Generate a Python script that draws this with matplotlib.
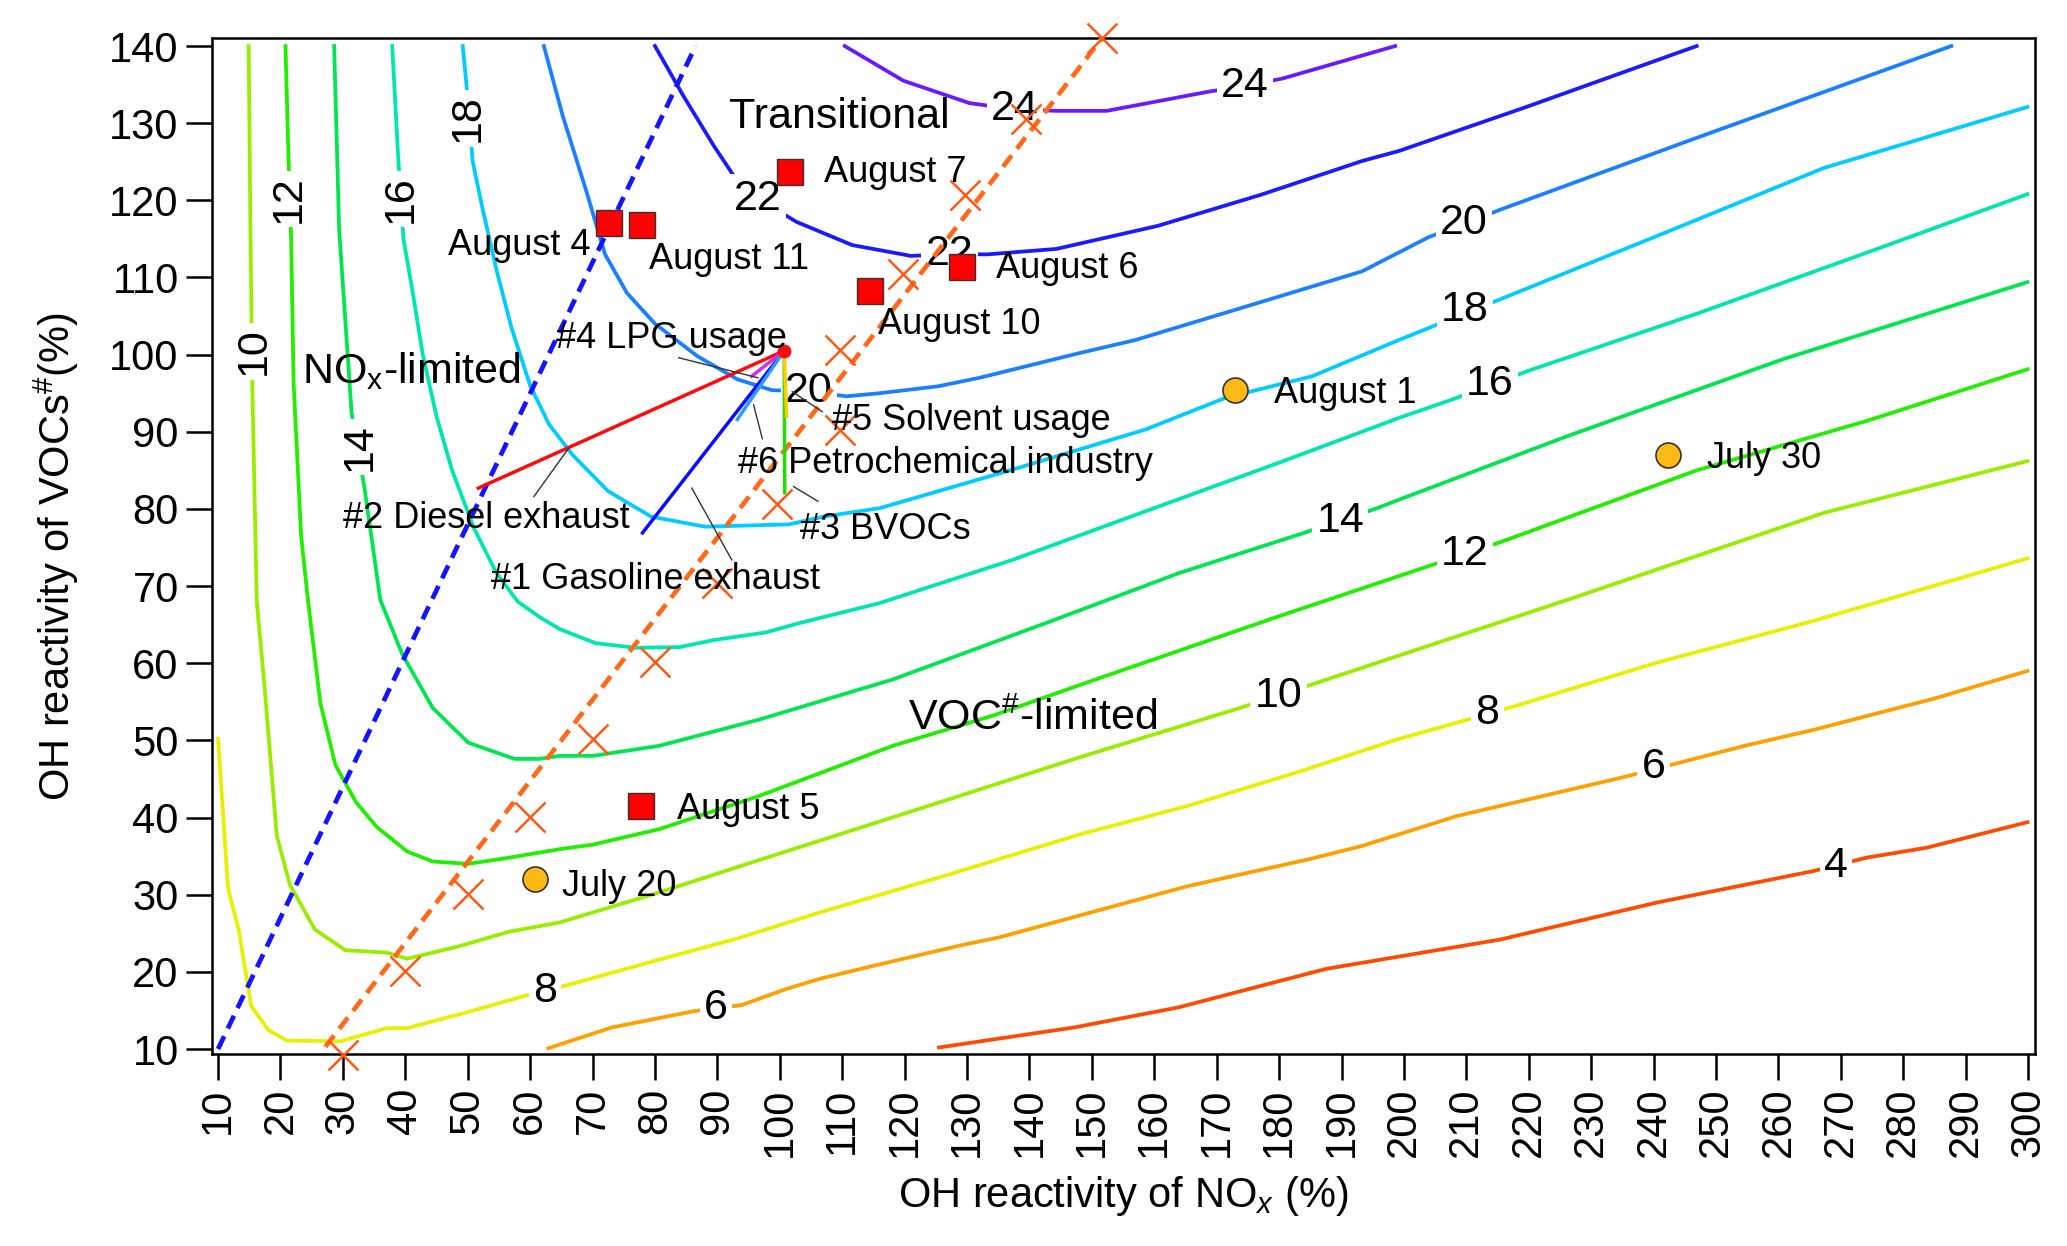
import matplotlib
matplotlib.use("Agg")
import matplotlib.pyplot as plt

plt.rcParams['font.family'] = ['Liberation Sans', 'DejaVu Sans']
plt.rcParams['mathtext.fontset'] = 'custom'
plt.rcParams['mathtext.rm'] = 'Liberation Sans'
plt.rcParams['mathtext.it'] = 'Liberation Sans:italic'

# ---- isopleths of O3 production (x = NOx %, y = VOCs %) ----
iso_04 = [(125.5, 10.2), (147.2, 12.8), (163.9, 15.4), (187.6, 20.4), (215.5, 24.2),
          (240.6, 29.0), (265.8, 33.1), (274.1, 34.8), (283.8, 36.1), (299.9, 39.4)]
iso_06 = [(62.9, 10.1), (73.1, 12.8), (86.2, 14.9), (93.9, 15.7), (101.1, 17.8),
          (106.4, 19.1), (115.1, 20.8), (128.8, 23.4), (135.3, 24.5), (148.0, 27.3),
          (165.3, 31.1), (184.8, 34.6), (193.2, 36.3), (208.5, 40.2), (235.0, 45.2),
          (244.1, 47.1), (254.6, 49.3), (265.8, 51.4), (285.3, 55.5), (299.9, 59.0)]
iso_08 = [(10.0, 50.2), (11.6, 30.8), (13.3, 25.5), (15.3, 15.6), (18.0, 12.5),
          (21.0, 11.1), (29.6, 11.0), (37.0, 12.7), (40.3, 12.7), (44.4, 13.6),
          (50.1, 14.8), (58.3, 16.7), (66.5, 18.4), (81.2, 21.7), (93.5, 24.4),
          (106.4, 27.7), (126.2, 32.4), (148.0, 37.8), (165.3, 41.5), (183.4, 46.0),
          (198.8, 50.1), (208.5, 52.3), (217.6, 54.4), (240.6, 60.1), (264.3, 65.2),
          (277.6, 68.3), (299.9, 73.6)]
iso_10 = [(14.9, 140.0), (15.2, 115.0), (15.5, 95.5), (16.2, 68.0), (17.4, 57.4),
          (19.4, 37.7), (21.5, 31.3), (25.5, 25.5), (30.4, 22.8), (37.0, 22.5),
          (40.3, 21.7), (48.5, 23.3), (56.6, 25.2), (64.7, 26.4), (80.7, 30.3),
          (96.7, 34.5), (106.4, 37.0), (128.0, 42.6), (148.0, 47.8), (173.7, 54.2),
          (186.2, 57.5), (199.2, 61.0), (226.5, 68.3), (267.3, 79.5), (299.9, 86.2)]
iso_12 = [(20.8, 140.0), (21.3, 125.1), (21.7, 115.2), (22.1, 96.4), (23.3, 76.6),
          (24.4, 68.2), (26.4, 54.8), (28.8, 46.8), (32.1, 42.0), (35.4, 38.8),
          (40.3, 35.6), (44.4, 34.3), (50.1, 34.0), (56.6, 34.8), (64.7, 35.9),
          (70.1, 36.5), (80.7, 38.5), (96.7, 42.8), (118.1, 49.3), (134.1, 53.2),
          (150.6, 57.9), (180.0, 66.1), (199.2, 71.3), (215.8, 75.8), (246.9, 85.0),
          (274.1, 91.4), (299.9, 98.1)]
iso_14 = [(28.6, 140.0), (29.4, 116.2), (31.4, 92.4), (33.5, 82.5), (36.0, 68.2),
          (39.5, 61.2), (44.4, 54.2), (50.1, 49.7), (57.5, 47.6), (61.5, 47.6),
          (64.7, 48.0), (70.1, 48.0), (80.7, 49.3), (96.7, 52.7), (118.1, 57.9),
          (142.6, 65.2), (164.0, 71.7), (184.0, 76.9), (195.7, 80.1), (199.2, 81.2),
          (226.4, 89.5), (260.7, 99.4), (299.9, 109.4)]
iso_16 = [(37.9, 140.0), (38.9, 125.0), (39.7, 115.0), (41.2, 108.0), (42.8, 100.0),
          (45.0, 92.0), (47.5, 85.0), (51.0, 77.5), (54.6, 71.7), (58.0, 68.0),
          (61.5, 66.0), (64.8, 64.4), (70.5, 62.6), (77.0, 62.0), (84.0, 62.1),
          (89.4, 63.0), (97.8, 64.0), (103.1, 65.2), (116.0, 67.8), (137.3, 73.4),
          (158.6, 79.7), (180.0, 86.0), (199.2, 91.8), (207.8, 94.2), (219.9, 97.9),
          (246.9, 105.3), (274.1, 113.2), (299.9, 120.8)]
iso_18 = [(49.2, 140.0), (49.8, 135.0), (50.8, 125.0), (52.3, 119.2), (54.6, 111.0),
          (57.0, 103.5), (60.0, 96.0), (63.0, 91.0), (66.8, 87.0), (72.5, 82.3),
          (79.4, 79.0), (88.0, 77.7), (101.5, 78.0), (107.0, 79.0), (116.0, 80.1),
          (137.3, 85.1), (158.6, 90.3), (171.4, 94.4), (185.3, 97.2), (199.2, 101.9),
          (215.8, 107.3), (240.0, 115.2), (267.3, 124.2), (299.9, 132.1)]
iso_20 = [(62.2, 140.0), (65.2, 131.0), (69.0, 121.2), (72.0, 113.0), (75.5, 108.0),
          (80.0, 104.0), (86.8, 99.8), (93.2, 96.8), (98.7, 95.4), (104.7, 95.2),
          (110.7, 94.6), (116.0, 95.0), (125.4, 95.9), (132.0, 97.0), (148.0, 100.2),
          (157.0, 101.9), (177.0, 106.8), (193.3, 110.8), (203.9, 115.2), (215.8, 118.9),
          (246.9, 128.1), (287.7, 140.0)]
iso_22 = [(80.0, 140.0), (84.5, 133.6), (89.4, 127.1), (92.6, 123.2), (96.5, 120.2),
          (102.7, 117.2), (111.6, 114.2), (121.0, 112.8), (127.2, 113.0), (133.3, 113.0),
          (144.3, 113.7), (160.6, 116.7), (177.0, 120.7), (193.3, 125.1), (199.2, 126.4),
          (219.6, 132.1), (246.9, 140.0)]
iso_24 = [(110.4, 140.0), (119.8, 135.5), (130.4, 132.6), (137.7, 131.8), (144.3, 131.6),
          (152.4, 131.6), (168.8, 134.1), (174.5, 134.8), (180.6, 135.8), (198.6, 140.0)]

levels = [4, 6, 8, 10, 12, 14, 16, 18, 20, 22, 24]
isopleths = [iso_04, iso_06, iso_08, iso_10, iso_12, iso_14, iso_16, iso_18, iso_20, iso_22, iso_24]
level_colors = ['#ff4a00', '#ffa000', '#e8f000', '#99ee00', '#22ee00', '#00e650',
                '#00e6b0', '#00ccff', '#1a80ff', '#1a1aff', '#6a1aff']

# contour label placement: (text, x, y, rotation)
iso_labels = [('4', 269.2, 33.7, 0), ('6', 89.8, 15.3, 0), ('6', 240.0, 46.5, 0),
              ('8', 62.4, 17.5, 0), ('8', 213.4, 53.6, 0), ('10', 15.7, 100.4, 90),
              ('10', 179.9, 55.7, 0), ('12', 21.3, 120.2, 90), ('12', 209.8, 74.1, 0),
              ('14', 32.7, 88.0, 90), ('14', 189.8, 78.4, 0), ('16', 39.2, 120.2, 90),
              ('16', 213.8, 96.2, 0), ('18', 50.0, 130.6, 90), ('18', 209.8, 105.8, 0),
              ('20', 104.7, 95.3, 0), ('20', 209.6, 117.0, 0), ('22', 96.5, 120.2, 0),
              ('22', 127.2, 113.0, 0), ('24', 137.7, 131.8, 0), ('24', 174.5, 134.8, 0)]

# ridge lines
nox_ridge_x = [10.0, 86.5]
nox_ridge_y = [10.0, 140.0]
voc_ridge_x = [27.2, 151.6]
voc_ridge_y = [10.3, 141.0]
cross_x = [30, 40, 50, 60, 70, 80, 90, 99.5, 109.7, 109.7, 119.8, 129.6, 139.4, 151.6]
cross_y = [9.2, 20.1, 30.1, 40.1, 50.2, 60.2, 70.4, 80.7, 90.2, 100.6, 110.5, 120.7, 130.6, 141.0]

# observation days
sq_days = ['August 4', 'August 11', 'August 7', 'August 6', 'August 10', 'August 5']
sq_x = [72.7, 78.0, 101.7, 129.2, 114.5, 77.7]
sq_y = [117.0, 116.8, 123.7, 111.3, 108.3, 41.5]
dot_days = ['August 1', 'July 30', 'July 20']
dot_x = [172.9, 242.3, 60.8]
dot_y = [95.4, 87.0, 32.1]

# source-reduction vectors from the base case
base_x, base_y = 100.7, 100.5
src_names = ['#1 Gasoline exhaust', '#2 Diesel exhaust', '#3 BVOCs',
             '#4 LPG usage', '#5 Solvent usage', '#6 Petrochemical industry']
src_end_x = [78.0, 51.7, 100.8, 95.5, 101.1, 93.2]
src_end_y = [76.9, 82.7, 82.1, 97.2, 92.0, 91.6]
src_colors = ['#0a0aff', '#ff0a0a', '#22dd00', '#cc33ee', '#ffcc00', '#2e9bff']

fig = plt.figure(figsize=(20.67, 12.46), dpi=100)
ax = fig.add_axes([0.1026, 0.1537, 0.8819, 0.8158])

for lev, pts, col in zip(levels, isopleths, level_colors):
    ax.plot([p[0] for p in pts], [p[1] for p in pts], color=col, lw=2.7,
            solid_joinstyle='round', zorder=1)

for txt, x, y, rot in iso_labels:
    ax.text(x, y, txt, fontsize=31, rotation=rot, ha='center', va='center', zorder=2,
            bbox=dict(facecolor='white', edgecolor='none', pad=3))

# source vectors
for ex, ey, col in zip(src_end_x, src_end_y, src_colors):
    ax.plot([base_x, ex], [base_y, ey], color=col, lw=2.5, zorder=4)
ax.plot([base_x], [base_y], 'o', color='#ff0a0a', ms=9, zorder=5)

# ridge lines
ax.plot(nox_ridge_x, nox_ridge_y, color='#1414ff', lw=3.4, dashes=(3, 1.8), zorder=3)
ax.plot(voc_ridge_x, voc_ridge_y, color='#ff6a1a', lw=3.4, dashes=(3, 1.8), zorder=3,
        clip_on=False)
ax.plot(cross_x, cross_y, 'x', color='#ff5a14', ms=21, mew=1.8, zorder=3, clip_on=False)

# leader lines for source labels
leaders = [((92.3, 73.4), (85.9, 82.7)), ((60.6, 81.6), (66.1, 87.8)),
           ((106.1, 81.0), (102.2, 82.9)), ((83.8, 99.6), (96.5, 97.0)),
           ((106.8, 92.6), (102.0, 95.2)), ((97.2, 89.1), (95.8, 93.5))]
for (x0, y0), (x1, y1) in leaders:
    ax.plot([x0, x1], [y0, y1], color='#333333', lw=1.0, zorder=4)

src_text_pos = [(80.1, 70.8, 'center'), (52.9, 78.7, 'center'), (103.3, 77.3, 'left'),
                (82.7, 102.1, 'center'), (108.4, 91.4, 'left'), (93.3, 85.9, 'left')]
for name, (tx, ty, ha) in zip(src_names, src_text_pos):
    ax.text(tx, ty, name, fontsize=26, ha=ha, va='center', zorder=6)

# days
ax.plot(sq_x, sq_y, 's', ms=19, mfc='#ff0000', mec='#333333', mew=1.0, zorder=6)
ax.plot(dot_x, dot_y, 'o', ms=18, mfc='#ffb914', mec='#333333', mew=1.2, zorder=6)
day_text_pos = {'August 4': (69.6, 114.2, 'right'), 'August 11': (79.1, 112.3, 'left'),
                'August 7': (107.1, 123.6, 'left'), 'August 6': (134.7, 111.1, 'left'),
                'August 10': (115.8, 103.9, 'left'), 'August 5': (83.5, 41.1, 'left'),
                'August 1': (179.1, 95.0, 'left'), 'July 30': (248.5, 86.6, 'left'),
                'July 20': (65.1, 31.1, 'left')}
for d in sq_days + dot_days:
    tx, ty, ha = day_text_pos[d]
    ax.text(tx, ty, d, fontsize=26, ha=ha, va='center', zorder=6)

# regimes
ax.text(91.9, 130.8, 'Transitional', fontsize=31, ha='left', va='center', zorder=6)
ax.text(23.5, 97.9, r'NO$_\mathrm{x}$-limited', fontsize=31, ha='left', va='center', zorder=6)
ax.text(120.5, 52.8, r'VOC$^{\#}$-limited', fontsize=31, ha='left', va='center', zorder=6)

ax.set_xlim(9.04, 301.1)
ax.set_ylim(9.29, 141.04)
ax.set_xticks(range(10, 301, 10))
ax.set_yticks(range(10, 141, 10))
ax.tick_params(axis='both', direction='out', length=19, width=1.8, labelsize=30, pad=5)
ax.tick_params(axis='x', labelrotation=90)
for s in ax.spines.values():
    s.set_linewidth(1.8)

ax.set_xlabel(r'OH reactivity of NO$_{\mathit{x}}$ (%)', fontsize=30)
ax.set_ylabel(r'OH reactivity of VOCs$^{\#}$(%)', fontsize=30)
ax.xaxis.set_label_coords(0.5, -0.118)
ax.yaxis.set_label_coords(-0.072, 0.49)

fig.savefig('out.png', dpi=100)
